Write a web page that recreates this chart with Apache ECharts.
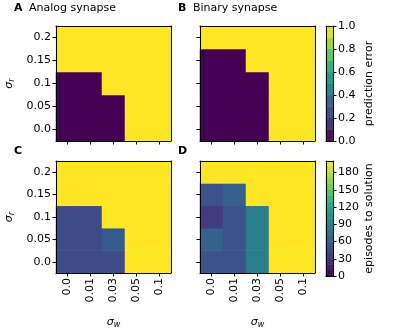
<!DOCTYPE html>
<html>
<head>
<meta charset="utf-8">
<script src="https://cdn.jsdelivr.net/npm/echarts@6/dist/echarts.min.js"></script>
<style>
    html, body { margin: 0; padding: 0; background: #fff; }
    #container { width: 400px; height: 330px; }
</style>
</head>
<body>
<div id="container"></div>
<script type="text/javascript">
    // sigma_w along x, sigma_r along y (rows listed from sigma_r = 0.0 upwards)
    var sigmaW = ['0.0', '0.01', '0.03', '0.05', '0.1'];
    var sigmaR = ['0.0', '0.05', '0.1', '0.15', '0.2'];

    var errAnalog = [
        [0, 0, 0, 1, 1],
        [0, 0, 0, 1, 1],
        [0, 0, 1, 1, 1],
        [1, 1, 1, 1, 1],
        [1, 1, 1, 1, 1]
    ];
    var errBinary = [
        [0, 0, 0, 1, 1],
        [0, 0, 0, 1, 1],
        [0, 0, 0, 1, 1],
        [0, 0, 1, 1, 1],
        [1, 1, 1, 1, 1]
    ];
    var epAnalog = [
        [46, 46, 46, 200, 200],
        [46, 46, 56, 200, 200],
        [46, 46, 200, 200, 200],
        [200, 200, 200, 200, 200],
        [200, 200, 200, 200, 200]
    ];
    var epBinary = [
        [50, 50, 84, 200, 200],
        [62, 50, 84, 200, 200],
        [34, 50, 84, 200, 200],
        [50, 62, 200, 200, 200],
        [200, 200, 200, 200, 200]
    ];

    // colorbar levels (bin centres) and tick labels
    var errLevels = [0.05, 0.15, 0.25, 0.35, 0.45, 0.55, 0.65, 0.75, 0.85, 0.95];
    var epLevels = [5, 15, 25, 35, 45, 55, 65, 75, 85, 95, 105, 115, 125, 135, 145, 155, 165, 175, 185, 195];
    var errTicks = [0, 0.2, 0.4, 0.6, 0.8, 1.0];
    var epTicks = [0, 30, 60, 90, 120, 150, 180];

    var viridis = ['#440154', '#482475', '#414487', '#355f8d', '#2a788e', '#21918c',
        '#22a884', '#44bf70', '#7ad151', '#bddf26', '#fde725'];

    var font = 'DejaVu Sans';

    function cells(m) {
        var out = [];
        m.forEach(function (row, yi) {
            row.forEach(function (v, xi) { out.push([xi, yi, v]); });
        });
        return out;
    }

    var spine = { show: true, lineStyle: { color: '#000', width: 1 } };
    var tick = { show: true, alignWithLabel: true, length: 3.5, lineStyle: { color: '#000', width: 1 } };
    var lbl = { color: '#000', fontFamily: font, fontSize: 11 };

    var grids = [
        { left: 56, top: 26, width: 115, height: 115 },
        { left: 200, top: 26, width: 115, height: 115 },
        { left: 56, top: 161, width: 115, height: 115 },
        { left: 200, top: 161, width: 115, height: 115 },
        { left: 326, top: 26, width: 7, height: 115 },
        { left: 326, top: 161, width: 7, height: 115 }
    ];

    var xAxes = [], yAxes = [], series = [];
    var mats = [errAnalog, errBinary, epAnalog, epBinary];

    mats.forEach(function (m, i) {
        var bottomRow = i >= 2, leftCol = i % 2 === 0;
        xAxes.push({
            type: 'category', gridIndex: i, data: sigmaW, position: 'bottom', z: 5,
            axisLine: spine, axisTick: tick, splitLine: { show: false },
            axisLabel: Object.assign({ show: bottomRow, rotate: 90, margin: 5 }, lbl),
            name: bottomRow ? '{a|σ}{b|w}' : '', nameLocation: 'middle', nameGap: 42,
            nameTextStyle: { color: '#000', fontFamily: font, rich: {
                a: { fontSize: 11, fontStyle: 'italic', fontFamily: font, color: '#000' },
                b: { fontSize: 8, fontStyle: 'italic', fontFamily: font, color: '#000', padding: [6, 0, 0, 0] }
            } }
        });
        xAxes.push({
            type: 'category', gridIndex: i, data: sigmaW, position: 'top', z: 5,
            axisLine: spine, axisTick: { show: false }, axisLabel: { show: false }
        });
        yAxes.push({
            type: 'category', gridIndex: i, data: sigmaR, position: 'left', z: 5,
            axisLine: spine, axisTick: tick, splitLine: { show: false },
            axisLabel: Object.assign({ show: leftCol, margin: 5 }, lbl),
            name: leftCol ? '{a|σ}{b|r}' : '', nameLocation: 'middle', nameGap: 40, nameRotate: 90,
            nameTextStyle: { color: '#000', fontFamily: font, rich: {
                a: { fontSize: 11, fontStyle: 'italic', fontFamily: font, color: '#000' },
                b: { fontSize: 8, fontStyle: 'italic', fontFamily: font, color: '#000', padding: [6, 0, 0, 0] }
            } }
        });
        yAxes.push({
            type: 'category', gridIndex: i, data: sigmaR, position: 'right', z: 5,
            axisLine: spine, axisTick: { show: false }, axisLabel: { show: false }
        });
        series.push({
            type: 'heatmap', xAxisIndex: 2 * i, yAxisIndex: 2 * i,
            data: cells(m), itemStyle: { borderWidth: 0 }, emphasis: { disabled: true }
        });
    });

    // colorbars: grid 4 (error) and grid 5 (episodes)
    var bars = [
        { levels: errLevels, min: 0, max: 1, ticks: errTicks, name: 'prediction error', fmt: function (v) { return v.toFixed(1); } },
        { levels: epLevels, min: 0, max: 200, ticks: epTicks, name: 'episodes to solution', fmt: function (v) { return String(v); } }
    ];
    bars.forEach(function (b, k) {
        var g = 4 + k;
        var xi = xAxes.length, yi = yAxes.length;
        xAxes.push({ type: 'category', gridIndex: g, data: ['c'], position: 'bottom', z: 5,
            axisLine: spine, axisTick: { show: false }, axisLabel: { show: false } });
        xAxes.push({ type: 'category', gridIndex: g, data: ['c'], position: 'top', z: 5,
            axisLine: spine, axisTick: { show: false }, axisLabel: { show: false } });
        yAxes.push({ type: 'category', gridIndex: g, data: b.levels.map(String), position: 'left', z: 5,
            axisLine: spine, axisTick: { show: false }, axisLabel: { show: false } });
        yAxes.push({ type: 'value', gridIndex: g, min: b.min, max: b.max, position: 'right', z: 5,
            axisLine: spine, splitLine: { show: false },
            axisTick: { show: true, length: 3.5, customValues: b.ticks, lineStyle: { color: '#000', width: 1 } },
            axisLabel: Object.assign({ margin: 5, customValues: b.ticks, formatter: b.fmt }, lbl),
            name: b.name, nameLocation: 'middle', nameRotate: 90, nameGap: 31,
            nameTextStyle: { color: '#000', fontFamily: font, fontSize: 11 } });
        series.push({
            type: 'heatmap', xAxisIndex: xi, yAxisIndex: yi,
            data: b.levels.map(function (v, j) { return [0, j, v]; }),
            itemStyle: { borderWidth: 0 }, emphasis: { disabled: true }
        });
    });

    var titleStyle = { color: '#000', fontFamily: font, fontSize: 11, fontWeight: 'normal' };
    var boldStyle = { color: '#000', fontFamily: font, fontSize: 11, fontWeight: 'bold' };

    var option = {
        animation: false,
        backgroundColor: '#fff',
        title: [
            { text: 'A', left: 14, top: 3, textStyle: boldStyle, padding: 0 },
            { text: 'Analog synapse', left: 29, top: 3, textStyle: titleStyle, padding: 0 },
            { text: 'B', left: 178, top: 3, textStyle: boldStyle, padding: 0 },
            { text: 'Binary synapse', left: 193, top: 3, textStyle: titleStyle, padding: 0 },
            { text: 'C', left: 14, top: 146, textStyle: boldStyle, padding: 0 },
            { text: 'D', left: 178, top: 146, textStyle: boldStyle, padding: 0 }
        ],
        grid: grids,
        xAxis: xAxes,
        yAxis: yAxes,
        visualMap: [
            { type: 'continuous', show: false, min: 0, max: 1, seriesIndex: [0, 1, 4], inRange: { color: viridis } },
            { type: 'continuous', show: false, min: 0, max: 200, seriesIndex: [2, 3, 5], inRange: { color: viridis } }
        ],
        series: series
    };

    var myChart = echarts.init(document.getElementById('container'));
    myChart.setOption(option, true);
</script>
</body>
</html>
